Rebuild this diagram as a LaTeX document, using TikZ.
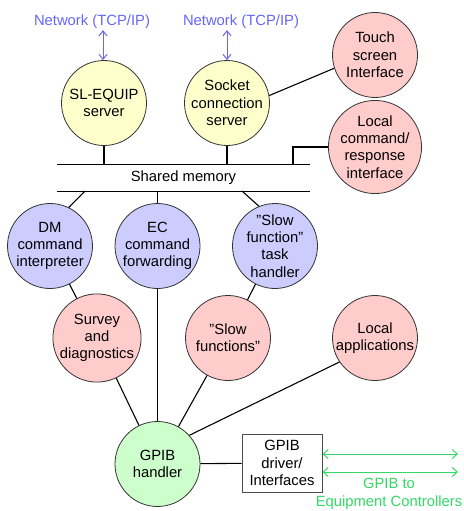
\documentclass[tikz,border=0pt]{standalone}
\usepackage{fontspec}
\setmainfont{Liberation Sans}
\usepackage[svgnames]{xcolor}
\usepackage{tikz}
\usetikzlibrary{
  arrows.meta,
  positioning}

\definecolor{netblue}{HTML}{6666FF}
\definecolor{gpibgreen}{HTML}{33D966}
\definecolor{srvyellow}{HTML}{FFFFCC}
\definecolor{locpink}{HTML}{FFCCCC}
\definecolor{cmdblue}{HTML}{CCCCFF}
\definecolor{hdlgreen}{HTML}{CCFFCC}

\tikzset{
  every node/.style={font=\fontsize{14.8}{17.3}\selectfont},
  task/.style={circle, draw=black!80, line width=0.8pt, minimum size=85pt,
    inner sep=0pt, align=center},
  link/.style={line width=1.1pt},
  netarrow/.style={netblue, line width=1pt,
    {Straight Barb[length=5pt,width=8pt]}-{Straight Barb[length=5pt,width=8pt]}},
  busarrow/.style={gpibgreen, line width=1pt,
    {Straight Barb[length=5pt,width=9pt]}-{Straight Barb[length=5pt,width=9pt]}}
}

\begin{document}
\begin{tikzpicture}[x=1pt, y=-1pt]
\useasboundingbox (0,0) rectangle (463,511);

% servers
\node[task, fill=srvyellow] (slequip) at (104,103) {SL-EQUIP\\server};
\node[task, fill=srvyellow] (socket) at (227,103) {Socket\\connection\\server};
\node[task, fill=locpink] (touch) at (375,55) {Touch\\screen\\Interface};
\node[task, fill=locpink] (lcmd) at (375,147) {Local\\command/\\response\\interface};

\node[netblue, inner sep=1pt] (net1) at (92,22) {Network (TCP/IP)};
\node[netblue, inner sep=1pt] (net2) at (241,22) {Network (TCP/IP)};
\draw[netarrow] (slequip.north -| net1.south) ++(11,0) coordinate (slnet) -- (slnet |- net1.south);
\draw[netarrow] (socket.north) -- (socket.north |- net2.south);

% shared memory
\node[minimum width=253pt, minimum height=26pt, inner sep=0pt] (shm) at (183.5,178) {Shared memory};
\draw[link] (shm.north west) -- (shm.north east);
\draw[link] (shm.south west) -- (shm.south east);
\coordinate (lcmdtap) at (293,165);

\draw[link] (slequip) -- (slequip |- shm.north);
\draw[link] (socket) -- (socket |- shm.north);
\draw[link] (socket.10) -- (touch.198);
\draw[link] (lcmd.west) -| (lcmdtap);

% command handlers
\node[task, fill=cmdblue] (dm) at (50,246) {DM\\command\\interpreter};
\node[task, fill=cmdblue] (ec) at (157.5,246) {EC\\command\\forwarding};
\node[task, fill=cmdblue] (slowtask) at (275,246) {"Slow\\function"\\task\\handler};

\coordinate (dmtap) at (85,191);
\coordinate (slowtap) at (242,191);
\draw[link] (dmtap) -- (dm.64);
\draw[link] (ec) -- (ec |- shm.south);
\draw[link] (slowtap) -- (slowtask.112);

% local tasks
\node[task, fill=locpink] (survey) at (97,338) {Survey\\and\\diagnostics};
\node[task, fill=locpink] (slowfn) at (228,338) {"Slow\\functions"};
\node[task, fill=locpink] (apps) at (375,338) {Local\\applications};

\draw[link] (dm) -- (survey);
\draw[link] (slowtask) -- (slowfn);

% GPIB
\node[task, fill=hdlgreen] (gpib) at (157.5,464) {GPIB\\handler};
\node[draw=black!70, line width=1pt, fill=white, minimum width=80pt, minimum height=58pt,
  inner sep=0pt, align=center] (driver) at (282,463) {GPIB\\driver/\\Interfaces};

\draw[link] (ec) -- (gpib);
\draw[link] (survey) -- (gpib);
\draw[link] (slowfn) -- (gpib);
\draw[link] (apps.214) -- (gpib.42);
\draw[link] (gpib) -- (driver);

\coordinate (bus1) at (458,454);
\coordinate (bus2) at (458,472);
\draw[busarrow] (driver.east |- bus1) -- (bus1);
\draw[busarrow] (driver.east |- bus2) -- (bus2);
\node[gpibgreen, align=center, inner sep=0pt] (buslabel) at (389,494) {GPIB to\\Equipment Controllers};

\end{tikzpicture}
\end{document}
